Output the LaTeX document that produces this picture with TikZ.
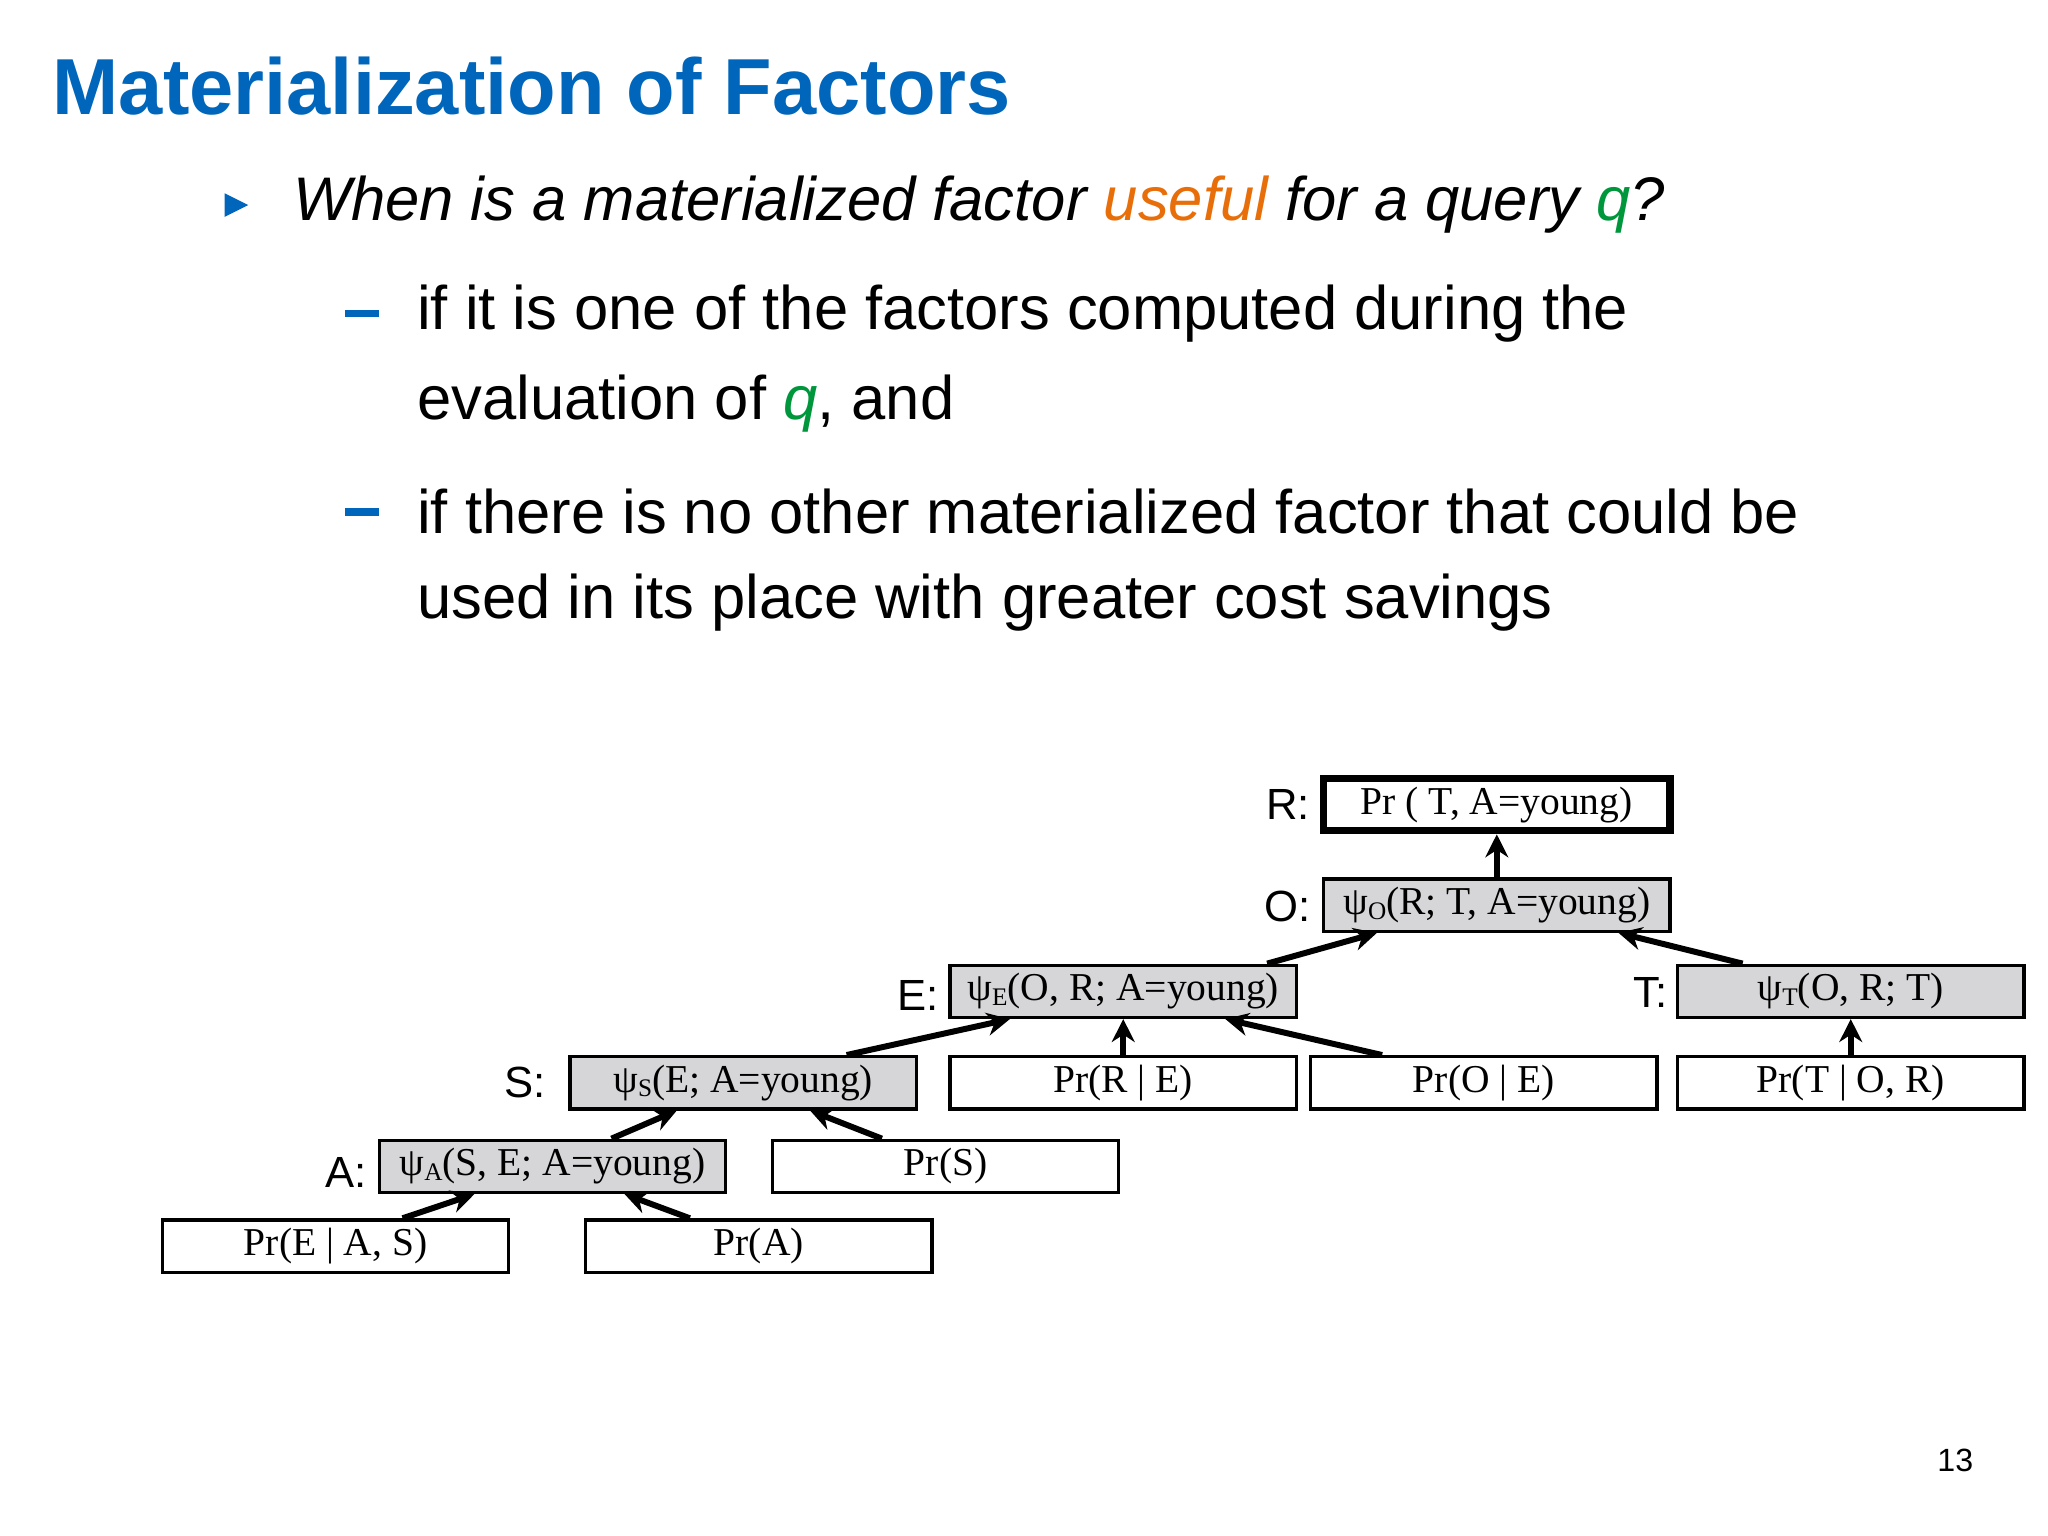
\documentclass[tikz,border=0pt]{standalone}
\usepackage{fontspec}
\setmainfont{Liberation Sans}
\newfontfamily\tms{Liberation Serif}
\usetikzlibrary{calc,arrows.meta}
\definecolor{tblue}{RGB}{0,102,187}
\definecolor{torange}{RGB}{232,110,10}
\definecolor{tgreen}{RGB}{0,150,60}
\definecolor{boxgray}{RGB}{214,214,216}
\tikzset{
 fbox/.style={draw,line width=0.7pt,minimum width=2.65cm,minimum height=0.4cm,inner sep=0pt,font=\tms\fontsize{8.6}{10}\selectfont},
 gbox/.style={fbox,fill=boxgray},
 lab/.style={font=\fontsize{9.5}{10}\selectfont},
 arr/.style={line width=1.3pt,-{Stealth[length=5pt,width=5pt]}},
 body/.style={anchor=west,font=\fontsize{13.4}{15}\selectfont},
}
\newcommand{\psub}[1]{ψ\raisebox{-0.25ex}{\fontsize{5.5}{6}\selectfont #1}}
\begin{document}
\begin{tikzpicture}[x=0.01cm,y=-0.01cm]
\fill[white] (0,0) rectangle (1568,1176);
\node[anchor=west,text=tblue,font=\fontsize{17.3}{20}\selectfont\bfseries] (title) at (28,66) {Materialization of Factors};
\fill[tblue] (172,148) -- (190,157) -- (172,166) -- cycle;
\node[body,font=\fontsize{13.4}{15}\selectfont\itshape] (l1) at (212,157) {When is a materialized factor \textcolor{torange}{useful} for a query \textcolor{tgreen}{q}?};
\draw[tblue,line width=1.6pt] (264,240) -- (290,240);
\node[body] (l2) at (307,240) {if it is one of the factors computed during the};
\node[body] (l3) at (307,309) {evaluation of \textcolor{tgreen}{\itshape q}, and};
\draw[tblue,line width=1.6pt] (264,392) -- (290,392);
\node[body] (l4) at (307,392) {if there is no other materialized factor that could be};
\node[body] (l5) at (307,461) {used in its place with greater cost savings};
\node[font=\fontsize{7}{8}\selectfont] (pg) at (1497,1118) {13};

\node[fbox,line width=1.6pt] (R) at (1146,616) {Pr ( T, A=young)};
\node[gbox] (O) at (1146,693) {\psub{O}(R; T, A=young)};
\node[gbox] (E) at (860,759) {\psub{E}(O, R; A=young)};
\node[gbox] (T) at (1417,759) {\psub{T}(O, R; T)};
\node[gbox] (S) at (569,829) {\psub{S}(E; A=young)};
\node[fbox] (PRE) at (860,829) {Pr(R | E)};
\node[fbox] (POE) at (1136,829) {Pr(O | E)};
\node[fbox] (PTOR) at (1417,829) {Pr(T | O, R)};
\node[gbox] (A) at (423,893) {\psub{A}(S, E; A=young)};
\node[fbox] (PS) at (724,893) {Pr(S)};
\node[fbox] (PEAS) at (257,954) {Pr(E | A, S)};
\node[fbox] (PA) at (581,954) {Pr(A)};

\node[lab] (lR) at (986,616) {R:};
\node[lab] (lO) at (986,694) {O:};
\node[lab] (lE) at (703,762) {E:};
\node[lab] (lT) at (1264,760) {T:};
\node[lab] (lS) at (402,829) {S:};
\node[lab] (lA) at (265,898) {A:};

\draw[arr] ($(PEAS.north west)+(185,0)$) -- ($(A.south west)+(74,0)$);
\draw[arr] ($(PA.north west)+(81,0)$) -- ($(A.south west)+(189,0)$);
\draw[arr] ($(A.north west)+(179,0)$) -- ($(S.south west)+(83,0)$);
\draw[arr] ($(PS.north west)+(85,0)$) -- ($(S.south west)+(185,0)$);
\draw[arr] ($(S.north west)+(213,0)$) -- ($(E.south west)+(47,0)$);
\draw[arr] (PRE.north) -- (E.south);
\draw[arr] ($(POE.north west)+(56,0)$) -- ($(E.south west)+(212,0)$);
\draw[arr] ($(E.north west)+(244,0)$) -- ($(O.south west)+(42,0)$);
\draw[arr] ($(T.north west)+(51,0)$) -- ($(O.south west)+(227,0)$);
\draw[arr] (PTOR.north) -- (T.south);
\draw[arr] (O.north) -- (R.south);
\end{tikzpicture}
\end{document}
